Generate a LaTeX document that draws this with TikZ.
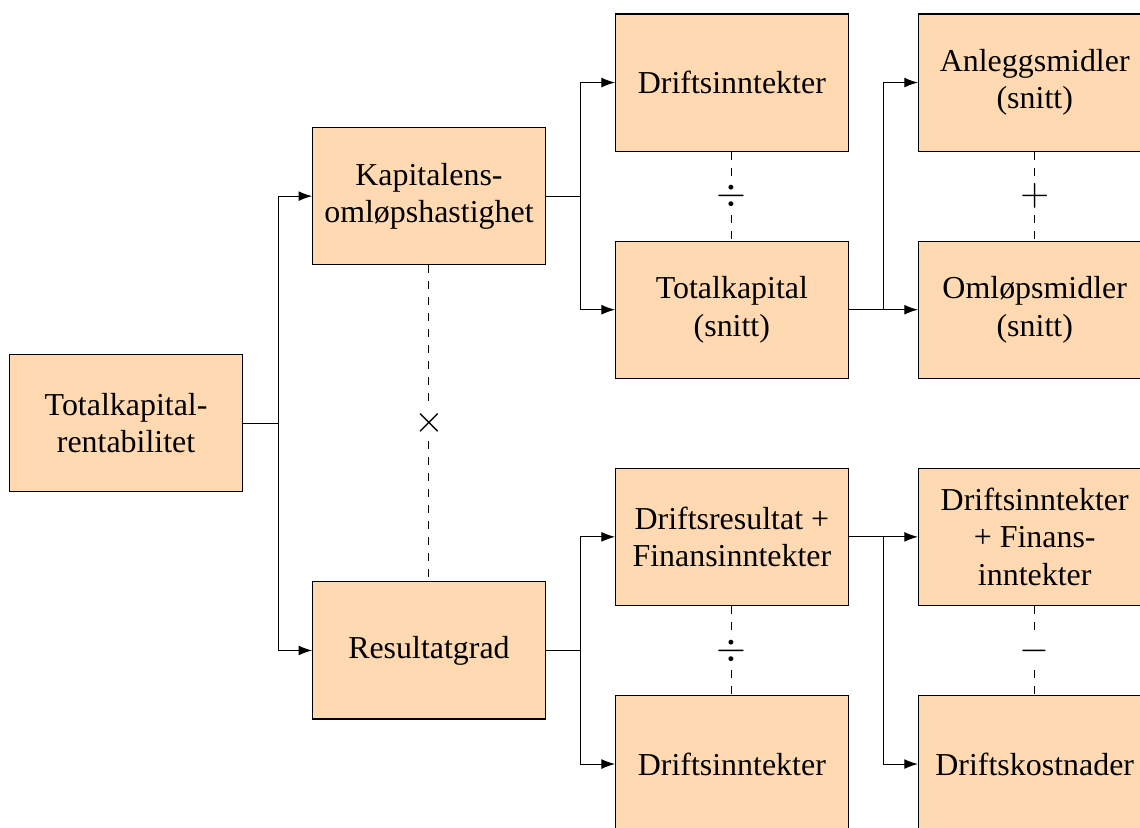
\documentclass[tikz,border=0pt]{standalone}
\usepackage{fontspec}
\setmainfont{Liberation Serif}
\usetikzlibrary{positioning,arrows.meta}

\begin{document}
\begin{tikzpicture}[node distance=1.5cm and 4cm,on grid,
    boks/.style={draw,fill=orange!30,minimum width=3.07cm,minimum height=1.81cm,
                 inner xsep=1pt,align=center,font=\fontsize{12}{14}\selectfont},
    op/.style={fill=white,inner sep=2pt,font=\Large},
    pil/.style={-{Latex[length=1.8mm,width=1.3mm]}}]
    \useasboundingbox (-1.665,-5.34) rectangle (13.39,5.59);

    \node[boks] (trk)                          {Totalkapital-\\rentabilitet};
    \node[boks] (koh) [above right=3cm and 4cm of trk] {Kapitalens-\\omløpshastighet};
    \node[boks] (rg)  [below right=3cm and 4cm of trk] {Resultatgrad};
    \node[boks] (di)  [above right=of koh]     {Driftsinntekter};
    \node[boks] (tk)  [below right=of koh]     {Totalkapital\\(snitt)};
    \node[boks] (am)  [right=of di]            {Anleggsmidler\\(snitt)};
    \node[boks] (om)  [right=of tk]            {Omløpsmidler\\(snitt)};
    \node[boks] (dr)  [above right=of rg]      {Driftsresultat +\\Finansinntekter};
    \node[boks] (di2) [below right=of rg]      {Driftsinntekter};
    \node[boks] (dfi) [right=of dr]            {Driftsinntekter\\+ Finans-\\inntekter};
    \node[boks] (dk)  [right=of di2]           {Driftskostnader};

    % forgreninger
    \draw[pil] (trk.east) -- ++(0.465,0) |- (koh.west);
    \draw[pil] (trk.east) -- ++(0.465,0) |- (rg.west);
    \draw[pil] (koh.east) -- ++(0.465,0) |- (di.west);
    \draw[pil] (koh.east) -- ++(0.465,0) |- (tk.west);
    \draw[pil] (tk.east)  -- ++(0.465,0) |- (am.west);
    \draw[pil] (tk.east)  -- ++(0.465,0) |- (om.west);
    \draw[pil] (rg.east)  -- ++(0.465,0) |- (dr.west);
    \draw[pil] (rg.east)  -- ++(0.465,0) |- (di2.west);
    \draw[pil] (dr.east)  -- ++(0.465,0) |- (dfi.west);
    \draw[pil] (dr.east)  -- ++(0.465,0) |- (dk.west);

    % regneoperasjoner
    \draw[dashed] (koh) -- node[op] {$\times$} (rg);
    \draw[dashed] (di)  -- node[op] {$\div$}   (tk);
    \draw[dashed] (am)  -- node[op] {$+$}      (om);
    \draw[dashed] (dr)  -- node[op] {$\div$}   (di2);
    \draw[dashed] (dfi) -- node[op] {$-$}      (dk);
\end{tikzpicture}
\end{document}
